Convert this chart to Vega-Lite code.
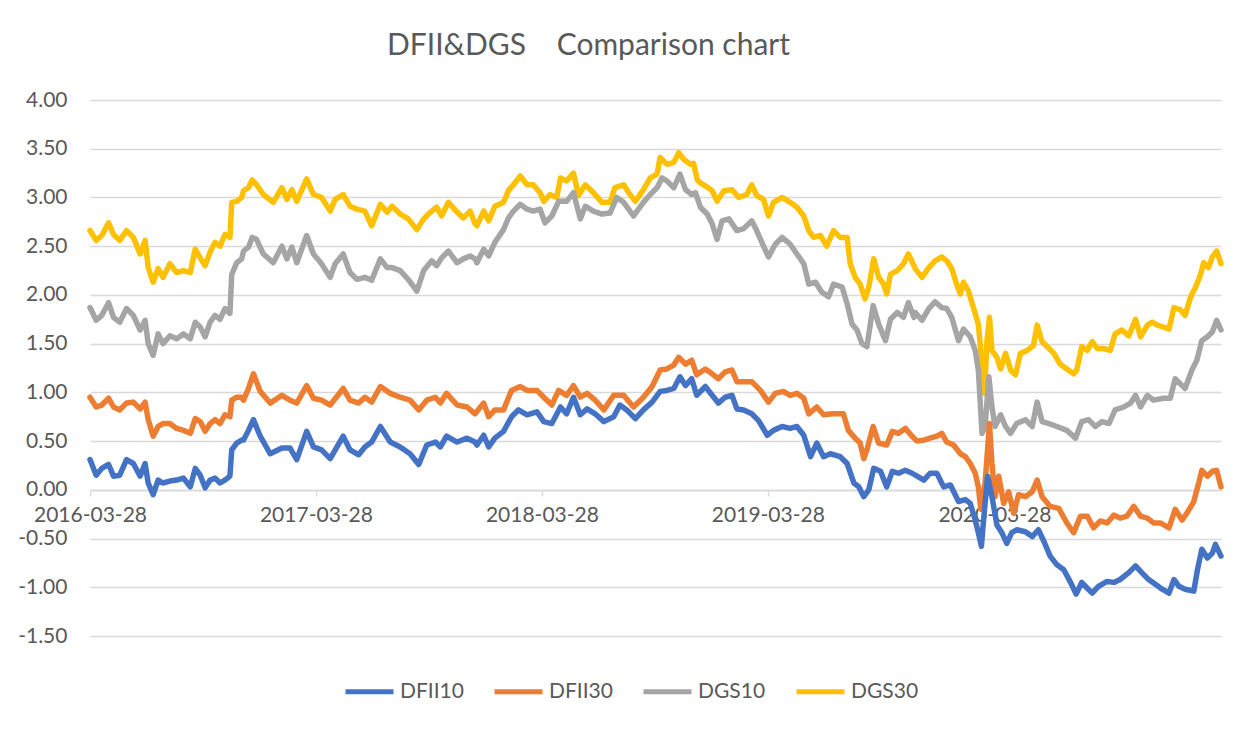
{
"$schema": "https://vega.github.io/schema/vega-lite/v6.json",
"width": 1131, "height": 536,
"autosize": {"type": "none"},
"padding": {"left": 90, "top": 100, "right": 28, "bottom": 93},
"background": "white",
"config": {"view": {"stroke": null}, "font": "Lato"},
"title": {"text": "DFII&DGS\u00a0\u00a0\u00a0 Comparison chart", "font": "Lato", "fontSize": 30, "fontWeight": "normal", "color": "#595959", "anchor": "middle", "frame": "group", "dx": -67, "offset": 4, "baseline": "alphabetic"},
"data": {"values": [
{"s":"DGS30","d":"2016-03-28","v":2.66},{"s":"DGS30","d":"2016-04-07","v":2.56},{"s":"DGS30","d":"2016-04-16","v":2.61},{"s":"DGS30","d":"2016-04-27","v":2.74},{"s":"DGS30","d":"2016-05-05","v":2.62},{"s":"DGS30","d":"2016-05-15","v":2.56},{"s":"DGS30","d":"2016-05-26","v":2.66},{"s":"DGS30","d":"2016-06-06","v":2.59},{"s":"DGS30","d":"2016-06-17","v":2.42},{"s":"DGS30","d":"2016-06-25","v":2.56},{"s":"DGS30","d":"2016-06-30","v":2.28},{"s":"DGS30","d":"2016-07-08","v":2.13},{"s":"DGS30","d":"2016-07-16","v":2.27},{"s":"DGS30","d":"2016-07-24","v":2.18},{"s":"DGS30","d":"2016-08-04","v":2.32},{"s":"DGS30","d":"2016-08-15","v":2.23},{"s":"DGS30","d":"2016-08-26","v":2.25},{"s":"DGS30","d":"2016-09-06","v":2.23},{"s":"DGS30","d":"2016-09-14","v":2.47},{"s":"DGS30","d":"2016-09-22","v":2.38},{"s":"DGS30","d":"2016-09-30","v":2.30},{"s":"DGS30","d":"2016-10-08","v":2.44},{"s":"DGS30","d":"2016-10-16","v":2.54},{"s":"DGS30","d":"2016-10-24","v":2.50},{"s":"DGS30","d":"2016-11-01","v":2.62},{"s":"DGS30","d":"2016-11-09","v":2.59},{"s":"DGS30","d":"2016-11-12","v":2.95},{"s":"DGS30","d":"2016-11-20","v":2.96},{"s":"DGS30","d":"2016-11-28","v":3.00},{"s":"DGS30","d":"2016-12-01","v":3.07},{"s":"DGS30","d":"2016-12-09","v":3.10},{"s":"DGS30","d":"2016-12-15","v":3.18},{"s":"DGS30","d":"2016-12-22","v":3.13},{"s":"DGS30","d":"2017-01-02","v":3.03},{"s":"DGS30","d":"2017-01-18","v":2.95},{"s":"DGS30","d":"2017-02-01","v":3.10},{"s":"DGS30","d":"2017-02-09","v":2.98},{"s":"DGS30","d":"2017-02-17","v":3.08},{"s":"DGS30","d":"2017-02-25","v":2.96},{"s":"DGS30","d":"2017-03-13","v":3.19},{"s":"DGS30","d":"2017-03-24","v":3.03},{"s":"DGS30","d":"2017-04-06","v":3.00},{"s":"DGS30","d":"2017-04-20","v":2.86},{"s":"DGS30","d":"2017-04-28","v":2.98},{"s":"DGS30","d":"2017-05-11","v":3.03},{"s":"DGS30","d":"2017-05-22","v":2.91},{"s":"DGS30","d":"2017-06-02","v":2.88},{"s":"DGS30","d":"2017-06-15","v":2.86},{"s":"DGS30","d":"2017-06-26","v":2.71},{"s":"DGS30","d":"2017-07-10","v":2.93},{"s":"DGS30","d":"2017-07-21","v":2.85},{"s":"DGS30","d":"2017-07-29","v":2.91},{"s":"DGS30","d":"2017-08-11","v":2.83},{"s":"DGS30","d":"2017-08-24","v":2.78},{"s":"DGS30","d":"2017-09-07","v":2.67},{"s":"DGS30","d":"2017-09-18","v":2.78},{"s":"DGS30","d":"2017-10-01","v":2.86},{"s":"DGS30","d":"2017-10-09","v":2.90},{"s":"DGS30","d":"2017-10-17","v":2.81},{"s":"DGS30","d":"2017-10-28","v":2.95},{"s":"DGS30","d":"2017-11-11","v":2.85},{"s":"DGS30","d":"2017-11-21","v":2.79},{"s":"DGS30","d":"2017-12-02","v":2.86},{"s":"DGS30","d":"2017-12-10","v":2.73},{"s":"DGS30","d":"2017-12-13","v":2.71},{"s":"DGS30","d":"2017-12-24","v":2.86},{"s":"DGS30","d":"2018-01-01","v":2.76},{"s":"DGS30","d":"2018-01-11","v":2.91},{"s":"DGS30","d":"2018-01-25","v":2.95},{"s":"DGS30","d":"2018-02-02","v":3.07},{"s":"DGS30","d":"2018-02-10","v":3.13},{"s":"DGS30","d":"2018-02-21","v":3.22},{"s":"DGS30","d":"2018-03-04","v":3.13},{"s":"DGS30","d":"2018-03-14","v":3.13},{"s":"DGS30","d":"2018-03-25","v":3.05},{"s":"DGS30","d":"2018-03-31","v":2.96},{"s":"DGS30","d":"2018-04-10","v":3.03},{"s":"DGS30","d":"2018-04-21","v":3.00},{"s":"DGS30","d":"2018-04-27","v":3.20},{"s":"DGS30","d":"2018-05-07","v":3.17},{"s":"DGS30","d":"2018-05-18","v":3.25},{"s":"DGS30","d":"2018-05-26","v":3.02},{"s":"DGS30","d":"2018-06-06","v":3.13},{"s":"DGS30","d":"2018-06-19","v":3.05},{"s":"DGS30","d":"2018-07-03","v":2.95},{"s":"DGS30","d":"2018-07-16","v":2.95},{"s":"DGS30","d":"2018-07-24","v":3.10},{"s":"DGS30","d":"2018-08-07","v":3.13},{"s":"DGS30","d":"2018-08-15","v":3.05},{"s":"DGS30","d":"2018-08-26","v":2.96},{"s":"DGS30","d":"2018-09-08","v":3.08},{"s":"DGS30","d":"2018-09-19","v":3.20},{"s":"DGS30","d":"2018-09-30","v":3.24},{"s":"DGS30","d":"2018-10-05","v":3.41},{"s":"DGS30","d":"2018-10-16","v":3.34},{"s":"DGS30","d":"2018-10-27","v":3.36},{"s":"DGS30","d":"2018-11-04","v":3.46},{"s":"DGS30","d":"2018-11-12","v":3.39},{"s":"DGS30","d":"2018-11-23","v":3.34},{"s":"DGS30","d":"2018-11-28","v":3.35},{"s":"DGS30","d":"2018-12-04","v":3.18},{"s":"DGS30","d":"2018-12-09","v":3.15},{"s":"DGS30","d":"2018-12-17","v":3.12},{"s":"DGS30","d":"2018-12-28","v":3.07},{"s":"DGS30","d":"2019-01-05","v":2.96},{"s":"DGS30","d":"2019-01-16","v":3.07},{"s":"DGS30","d":"2019-01-29","v":3.08},{"s":"DGS30","d":"2019-02-09","v":3.00},{"s":"DGS30","d":"2019-02-22","v":3.03},{"s":"DGS30","d":"2019-03-02","v":3.13},{"s":"DGS30","d":"2019-03-10","v":3.02},{"s":"DGS30","d":"2019-03-21","v":2.98},{"s":"DGS30","d":"2019-03-29","v":2.81},{"s":"DGS30","d":"2019-04-06","v":2.95},{"s":"DGS30","d":"2019-04-20","v":3.00},{"s":"DGS30","d":"2019-05-03","v":2.95},{"s":"DGS30","d":"2019-05-14","v":2.90},{"s":"DGS30","d":"2019-05-25","v":2.81},{"s":"DGS30","d":"2019-06-02","v":2.66},{"s":"DGS30","d":"2019-06-10","v":2.59},{"s":"DGS30","d":"2019-06-21","v":2.61},{"s":"DGS30","d":"2019-07-01","v":2.50},{"s":"DGS30","d":"2019-07-12","v":2.66},{"s":"DGS30","d":"2019-07-23","v":2.59},{"s":"DGS30","d":"2019-08-03","v":2.59},{"s":"DGS30","d":"2019-08-08","v":2.32},{"s":"DGS30","d":"2019-08-16","v":2.18},{"s":"DGS30","d":"2019-08-24","v":2.11},{"s":"DGS30","d":"2019-09-01","v":1.96},{"s":"DGS30","d":"2019-09-07","v":2.08},{"s":"DGS30","d":"2019-09-15","v":2.37},{"s":"DGS30","d":"2019-09-23","v":2.18},{"s":"DGS30","d":"2019-10-01","v":2.11},{"s":"DGS30","d":"2019-10-06","v":2.01},{"s":"DGS30","d":"2019-10-12","v":2.21},{"s":"DGS30","d":"2019-10-23","v":2.25},{"s":"DGS30","d":"2019-11-02","v":2.32},{"s":"DGS30","d":"2019-11-10","v":2.42},{"s":"DGS30","d":"2019-11-19","v":2.30},{"s":"DGS30","d":"2019-11-21","v":2.27},{"s":"DGS30","d":"2019-12-02","v":2.18},{"s":"DGS30","d":"2019-12-13","v":2.28},{"s":"DGS30","d":"2019-12-23","v":2.35},{"s":"DGS30","d":"2020-01-03","v":2.39},{"s":"DGS30","d":"2020-01-11","v":2.35},{"s":"DGS30","d":"2020-01-19","v":2.27},{"s":"DGS30","d":"2020-01-27","v":2.11},{"s":"DGS30","d":"2020-02-02","v":2.01},{"s":"DGS30","d":"2020-02-07","v":2.13},{"s":"DGS30","d":"2020-02-15","v":2.04},{"s":"DGS30","d":"2020-02-23","v":1.87},{"s":"DGS30","d":"2020-03-02","v":1.70},{"s":"DGS30","d":"2020-03-08","v":1.29},{"s":"DGS30","d":"2020-03-12","v":0.99},{"s":"DGS30","d":"2020-03-16","v":1.53},{"s":"DGS30","d":"2020-03-20","v":1.77},{"s":"DGS30","d":"2020-03-24","v":1.43},{"s":"DGS30","d":"2020-04-01","v":1.36},{"s":"DGS30","d":"2020-04-07","v":1.24},{"s":"DGS30","d":"2020-04-15","v":1.40},{"s":"DGS30","d":"2020-04-23","v":1.23},{"s":"DGS30","d":"2020-05-01","v":1.18},{"s":"DGS30","d":"2020-05-09","v":1.40},{"s":"DGS30","d":"2020-05-20","v":1.43},{"s":"DGS30","d":"2020-05-30","v":1.48},{"s":"DGS30","d":"2020-06-05","v":1.69},{"s":"DGS30","d":"2020-06-13","v":1.52},{"s":"DGS30","d":"2020-06-21","v":1.47},{"s":"DGS30","d":"2020-07-02","v":1.40},{"s":"DGS30","d":"2020-07-12","v":1.29},{"s":"DGS30","d":"2020-07-23","v":1.24},{"s":"DGS30","d":"2020-08-03","v":1.19},{"s":"DGS30","d":"2020-08-08","v":1.23},{"s":"DGS30","d":"2020-08-16","v":1.47},{"s":"DGS30","d":"2020-08-25","v":1.43},{"s":"DGS30","d":"2020-09-02","v":1.52},{"s":"DGS30","d":"2020-09-10","v":1.45},{"s":"DGS30","d":"2020-09-20","v":1.45},{"s":"DGS30","d":"2020-10-01","v":1.43},{"s":"DGS30","d":"2020-10-09","v":1.60},{"s":"DGS30","d":"2020-10-20","v":1.64},{"s":"DGS30","d":"2020-10-31","v":1.58},{"s":"DGS30","d":"2020-11-11","v":1.75},{"s":"DGS30","d":"2020-11-19","v":1.57},{"s":"DGS30","d":"2020-11-30","v":1.69},{"s":"DGS30","d":"2020-12-08","v":1.72},{"s":"DGS30","d":"2020-12-16","v":1.69},{"s":"DGS30","d":"2020-12-26","v":1.67},{"s":"DGS30","d":"2021-01-04","v":1.65},{"s":"DGS30","d":"2021-01-12","v":1.87},{"s":"DGS30","d":"2021-01-22","v":1.85},{"s":"DGS30","d":"2021-01-30","v":1.79},{"s":"DGS30","d":"2021-02-08","v":1.98},{"s":"DGS30","d":"2021-02-16","v":2.08},{"s":"DGS30","d":"2021-02-24","v":2.21},{"s":"DGS30","d":"2021-03-01","v":2.33},{"s":"DGS30","d":"2021-03-09","v":2.28},{"s":"DGS30","d":"2021-03-15","v":2.39},{"s":"DGS30","d":"2021-03-22","v":2.45},{"s":"DGS30","d":"2021-03-29","v":2.32},

{"s":"DGS10","d":"2016-03-28","v":1.87},{"s":"DGS10","d":"2016-04-07","v":1.74},{"s":"DGS10","d":"2016-04-16","v":1.79},{"s":"DGS10","d":"2016-04-27","v":1.92},{"s":"DGS10","d":"2016-05-05","v":1.77},{"s":"DGS10","d":"2016-05-15","v":1.72},{"s":"DGS10","d":"2016-05-26","v":1.86},{"s":"DGS10","d":"2016-06-06","v":1.79},{"s":"DGS10","d":"2016-06-17","v":1.64},{"s":"DGS10","d":"2016-06-25","v":1.74},{"s":"DGS10","d":"2016-06-30","v":1.50},{"s":"DGS10","d":"2016-07-08","v":1.38},{"s":"DGS10","d":"2016-07-16","v":1.60},{"s":"DGS10","d":"2016-07-24","v":1.50},{"s":"DGS10","d":"2016-08-04","v":1.58},{"s":"DGS10","d":"2016-08-15","v":1.55},{"s":"DGS10","d":"2016-08-26","v":1.60},{"s":"DGS10","d":"2016-09-06","v":1.55},{"s":"DGS10","d":"2016-09-14","v":1.72},{"s":"DGS10","d":"2016-09-22","v":1.67},{"s":"DGS10","d":"2016-09-30","v":1.57},{"s":"DGS10","d":"2016-10-08","v":1.72},{"s":"DGS10","d":"2016-10-16","v":1.79},{"s":"DGS10","d":"2016-10-24","v":1.75},{"s":"DGS10","d":"2016-11-01","v":1.86},{"s":"DGS10","d":"2016-11-09","v":1.81},{"s":"DGS10","d":"2016-11-12","v":2.21},{"s":"DGS10","d":"2016-11-20","v":2.33},{"s":"DGS10","d":"2016-11-28","v":2.37},{"s":"DGS10","d":"2016-12-01","v":2.45},{"s":"DGS10","d":"2016-12-09","v":2.49},{"s":"DGS10","d":"2016-12-15","v":2.59},{"s":"DGS10","d":"2016-12-22","v":2.57},{"s":"DGS10","d":"2017-01-02","v":2.42},{"s":"DGS10","d":"2017-01-18","v":2.33},{"s":"DGS10","d":"2017-02-01","v":2.50},{"s":"DGS10","d":"2017-02-09","v":2.37},{"s":"DGS10","d":"2017-02-17","v":2.49},{"s":"DGS10","d":"2017-02-25","v":2.33},{"s":"DGS10","d":"2017-03-13","v":2.61},{"s":"DGS10","d":"2017-03-24","v":2.42},{"s":"DGS10","d":"2017-04-06","v":2.32},{"s":"DGS10","d":"2017-04-20","v":2.18},{"s":"DGS10","d":"2017-04-28","v":2.32},{"s":"DGS10","d":"2017-05-11","v":2.42},{"s":"DGS10","d":"2017-05-22","v":2.23},{"s":"DGS10","d":"2017-06-02","v":2.16},{"s":"DGS10","d":"2017-06-15","v":2.18},{"s":"DGS10","d":"2017-06-26","v":2.15},{"s":"DGS10","d":"2017-07-10","v":2.37},{"s":"DGS10","d":"2017-07-21","v":2.28},{"s":"DGS10","d":"2017-07-29","v":2.28},{"s":"DGS10","d":"2017-08-11","v":2.25},{"s":"DGS10","d":"2017-08-24","v":2.16},{"s":"DGS10","d":"2017-09-07","v":2.04},{"s":"DGS10","d":"2017-09-18","v":2.25},{"s":"DGS10","d":"2017-10-01","v":2.35},{"s":"DGS10","d":"2017-10-09","v":2.30},{"s":"DGS10","d":"2017-10-17","v":2.38},{"s":"DGS10","d":"2017-10-28","v":2.45},{"s":"DGS10","d":"2017-11-11","v":2.33},{"s":"DGS10","d":"2017-11-21","v":2.37},{"s":"DGS10","d":"2017-12-02","v":2.40},{"s":"DGS10","d":"2017-12-10","v":2.37},{"s":"DGS10","d":"2017-12-13","v":2.33},{"s":"DGS10","d":"2017-12-24","v":2.47},{"s":"DGS10","d":"2018-01-01","v":2.40},{"s":"DGS10","d":"2018-01-11","v":2.54},{"s":"DGS10","d":"2018-01-25","v":2.67},{"s":"DGS10","d":"2018-02-02","v":2.79},{"s":"DGS10","d":"2018-02-10","v":2.86},{"s":"DGS10","d":"2018-02-21","v":2.93},{"s":"DGS10","d":"2018-03-04","v":2.88},{"s":"DGS10","d":"2018-03-14","v":2.86},{"s":"DGS10","d":"2018-03-25","v":2.88},{"s":"DGS10","d":"2018-04-02","v":2.74},{"s":"DGS10","d":"2018-04-13","v":2.81},{"s":"DGS10","d":"2018-04-24","v":2.96},{"s":"DGS10","d":"2018-05-07","v":2.96},{"s":"DGS10","d":"2018-05-18","v":3.05},{"s":"DGS10","d":"2018-05-29","v":2.78},{"s":"DGS10","d":"2018-06-06","v":2.91},{"s":"DGS10","d":"2018-06-19","v":2.86},{"s":"DGS10","d":"2018-07-03","v":2.83},{"s":"DGS10","d":"2018-07-16","v":2.84},{"s":"DGS10","d":"2018-07-27","v":3.00},{"s":"DGS10","d":"2018-08-07","v":2.95},{"s":"DGS10","d":"2018-08-23","v":2.81},{"s":"DGS10","d":"2018-09-08","v":2.95},{"s":"DGS10","d":"2018-09-19","v":3.03},{"s":"DGS10","d":"2018-09-30","v":3.10},{"s":"DGS10","d":"2018-10-08","v":3.20},{"s":"DGS10","d":"2018-10-16","v":3.17},{"s":"DGS10","d":"2018-10-27","v":3.10},{"s":"DGS10","d":"2018-11-06","v":3.24},{"s":"DGS10","d":"2018-11-15","v":3.08},{"s":"DGS10","d":"2018-11-25","v":3.03},{"s":"DGS10","d":"2018-12-01","v":3.05},{"s":"DGS10","d":"2018-12-09","v":2.90},{"s":"DGS10","d":"2018-12-20","v":2.83},{"s":"DGS10","d":"2018-12-28","v":2.73},{"s":"DGS10","d":"2019-01-05","v":2.57},{"s":"DGS10","d":"2019-01-13","v":2.76},{"s":"DGS10","d":"2019-01-24","v":2.78},{"s":"DGS10","d":"2019-02-06","v":2.66},{"s":"DGS10","d":"2019-02-17","v":2.68},{"s":"DGS10","d":"2019-03-02","v":2.76},{"s":"DGS10","d":"2019-03-10","v":2.66},{"s":"DGS10","d":"2019-03-21","v":2.50},{"s":"DGS10","d":"2019-03-29","v":2.39},{"s":"DGS10","d":"2019-04-09","v":2.52},{"s":"DGS10","d":"2019-04-20","v":2.59},{"s":"DGS10","d":"2019-05-03","v":2.52},{"s":"DGS10","d":"2019-05-14","v":2.42},{"s":"DGS10","d":"2019-05-25","v":2.32},{"s":"DGS10","d":"2019-06-02","v":2.11},{"s":"DGS10","d":"2019-06-13","v":2.13},{"s":"DGS10","d":"2019-06-23","v":2.03},{"s":"DGS10","d":"2019-07-04","v":1.98},{"s":"DGS10","d":"2019-07-12","v":2.11},{"s":"DGS10","d":"2019-07-26","v":2.08},{"s":"DGS10","d":"2019-08-03","v":1.91},{"s":"DGS10","d":"2019-08-11","v":1.70},{"s":"DGS10","d":"2019-08-19","v":1.64},{"s":"DGS10","d":"2019-08-27","v":1.50},{"s":"DGS10","d":"2019-09-04","v":1.47},{"s":"DGS10","d":"2019-09-14","v":1.89},{"s":"DGS10","d":"2019-09-23","v":1.70},{"s":"DGS10","d":"2019-10-04","v":1.53},{"s":"DGS10","d":"2019-10-12","v":1.75},{"s":"DGS10","d":"2019-10-23","v":1.82},{"s":"DGS10","d":"2019-11-02","v":1.77},{"s":"DGS10","d":"2019-11-10","v":1.92},{"s":"DGS10","d":"2019-11-19","v":1.77},{"s":"DGS10","d":"2019-11-21","v":1.82},{"s":"DGS10","d":"2019-12-02","v":1.74},{"s":"DGS10","d":"2019-12-13","v":1.86},{"s":"DGS10","d":"2019-12-23","v":1.93},{"s":"DGS10","d":"2020-01-03","v":1.87},{"s":"DGS10","d":"2020-01-11","v":1.86},{"s":"DGS10","d":"2020-01-19","v":1.77},{"s":"DGS10","d":"2020-01-30","v":1.53},{"s":"DGS10","d":"2020-02-07","v":1.65},{"s":"DGS10","d":"2020-02-18","v":1.57},{"s":"DGS10","d":"2020-02-26","v":1.43},{"s":"DGS10","d":"2020-03-02","v":1.23},{"s":"DGS10","d":"2020-03-08","v":0.58},{"s":"DGS10","d":"2020-03-13","v":0.65},{"s":"DGS10","d":"2020-03-19","v":1.16},{"s":"DGS10","d":"2020-03-24","v":0.85},{"s":"DGS10","d":"2020-03-29","v":0.65},{"s":"DGS10","d":"2020-04-07","v":0.77},{"s":"DGS10","d":"2020-04-15","v":0.65},{"s":"DGS10","d":"2020-04-23","v":0.58},{"s":"DGS10","d":"2020-05-03","v":0.68},{"s":"DGS10","d":"2020-05-17","v":0.72},{"s":"DGS10","d":"2020-05-28","v":0.65},{"s":"DGS10","d":"2020-06-05","v":0.90},{"s":"DGS10","d":"2020-06-13","v":0.70},{"s":"DGS10","d":"2020-06-24","v":0.68},{"s":"DGS10","d":"2020-07-07","v":0.65},{"s":"DGS10","d":"2020-07-23","v":0.61},{"s":"DGS10","d":"2020-08-06","v":0.53},{"s":"DGS10","d":"2020-08-16","v":0.70},{"s":"DGS10","d":"2020-08-27","v":0.72},{"s":"DGS10","d":"2020-09-07","v":0.65},{"s":"DGS10","d":"2020-09-18","v":0.70},{"s":"DGS10","d":"2020-09-29","v":0.68},{"s":"DGS10","d":"2020-10-09","v":0.82},{"s":"DGS10","d":"2020-10-23","v":0.85},{"s":"DGS10","d":"2020-11-03","v":0.89},{"s":"DGS10","d":"2020-11-11","v":0.97},{"s":"DGS10","d":"2020-11-19","v":0.85},{"s":"DGS10","d":"2020-11-30","v":0.97},{"s":"DGS10","d":"2020-12-10","v":0.92},{"s":"DGS10","d":"2020-12-26","v":0.94},{"s":"DGS10","d":"2021-01-06","v":0.94},{"s":"DGS10","d":"2021-01-14","v":1.14},{"s":"DGS10","d":"2021-01-25","v":1.07},{"s":"DGS10","d":"2021-01-30","v":1.04},{"s":"DGS10","d":"2021-02-10","v":1.23},{"s":"DGS10","d":"2021-02-18","v":1.33},{"s":"DGS10","d":"2021-02-26","v":1.53},{"s":"DGS10","d":"2021-03-07","v":1.57},{"s":"DGS10","d":"2021-03-15","v":1.62},{"s":"DGS10","d":"2021-03-22","v":1.74},{"s":"DGS10","d":"2021-03-29","v":1.64},

{"s":"DFII30","d":"2016-03-28","v":0.95},{"s":"DFII30","d":"2016-04-07","v":0.85},{"s":"DFII30","d":"2016-04-16","v":0.87},{"s":"DFII30","d":"2016-04-27","v":0.94},{"s":"DFII30","d":"2016-05-05","v":0.85},{"s":"DFII30","d":"2016-05-15","v":0.82},{"s":"DFII30","d":"2016-05-26","v":0.89},{"s":"DFII30","d":"2016-06-06","v":0.90},{"s":"DFII30","d":"2016-06-17","v":0.83},{"s":"DFII30","d":"2016-06-25","v":0.90},{"s":"DFII30","d":"2016-06-30","v":0.72},{"s":"DFII30","d":"2016-07-08","v":0.55},{"s":"DFII30","d":"2016-07-16","v":0.65},{"s":"DFII30","d":"2016-07-24","v":0.68},{"s":"DFII30","d":"2016-08-04","v":0.68},{"s":"DFII30","d":"2016-08-15","v":0.63},{"s":"DFII30","d":"2016-08-26","v":0.61},{"s":"DFII30","d":"2016-09-06","v":0.58},{"s":"DFII30","d":"2016-09-14","v":0.73},{"s":"DFII30","d":"2016-09-22","v":0.70},{"s":"DFII30","d":"2016-09-30","v":0.60},{"s":"DFII30","d":"2016-10-08","v":0.68},{"s":"DFII30","d":"2016-10-16","v":0.72},{"s":"DFII30","d":"2016-10-24","v":0.68},{"s":"DFII30","d":"2016-11-01","v":0.77},{"s":"DFII30","d":"2016-11-09","v":0.75},{"s":"DFII30","d":"2016-11-12","v":0.92},{"s":"DFII30","d":"2016-11-20","v":0.95},{"s":"DFII30","d":"2016-11-28","v":0.95},{"s":"DFII30","d":"2016-12-01","v":0.92},{"s":"DFII30","d":"2016-12-09","v":1.04},{"s":"DFII30","d":"2016-12-17","v":1.19},{"s":"DFII30","d":"2016-12-28","v":1.01},{"s":"DFII30","d":"2017-01-13","v":0.89},{"s":"DFII30","d":"2017-02-01","v":0.97},{"s":"DFII30","d":"2017-02-14","v":0.92},{"s":"DFII30","d":"2017-02-25","v":0.89},{"s":"DFII30","d":"2017-03-13","v":1.07},{"s":"DFII30","d":"2017-03-24","v":0.94},{"s":"DFII30","d":"2017-04-06","v":0.92},{"s":"DFII30","d":"2017-04-20","v":0.87},{"s":"DFII30","d":"2017-05-11","v":1.04},{"s":"DFII30","d":"2017-05-22","v":0.92},{"s":"DFII30","d":"2017-06-05","v":0.89},{"s":"DFII30","d":"2017-06-15","v":0.95},{"s":"DFII30","d":"2017-06-26","v":0.90},{"s":"DFII30","d":"2017-07-10","v":1.06},{"s":"DFII30","d":"2017-07-26","v":0.99},{"s":"DFII30","d":"2017-08-11","v":0.95},{"s":"DFII30","d":"2017-08-27","v":0.92},{"s":"DFII30","d":"2017-09-10","v":0.82},{"s":"DFII30","d":"2017-09-23","v":0.92},{"s":"DFII30","d":"2017-10-07","v":0.95},{"s":"DFII30","d":"2017-10-15","v":0.89},{"s":"DFII30","d":"2017-10-25","v":0.99},{"s":"DFII30","d":"2017-11-11","v":0.87},{"s":"DFII30","d":"2017-11-27","v":0.85},{"s":"DFII30","d":"2017-12-10","v":0.78},{"s":"DFII30","d":"2017-12-24","v":0.89},{"s":"DFII30","d":"2018-01-01","v":0.75},{"s":"DFII30","d":"2018-01-11","v":0.82},{"s":"DFII30","d":"2018-01-25","v":0.82},{"s":"DFII30","d":"2018-02-07","v":1.02},{"s":"DFII30","d":"2018-02-21","v":1.06},{"s":"DFII30","d":"2018-03-04","v":1.02},{"s":"DFII30","d":"2018-03-20","v":1.02},{"s":"DFII30","d":"2018-03-31","v":0.95},{"s":"DFII30","d":"2018-04-13","v":0.87},{"s":"DFII30","d":"2018-04-24","v":1.02},{"s":"DFII30","d":"2018-05-07","v":0.97},{"s":"DFII30","d":"2018-05-18","v":1.07},{"s":"DFII30","d":"2018-05-29","v":0.95},{"s":"DFII30","d":"2018-06-09","v":0.99},{"s":"DFII30","d":"2018-06-22","v":0.92},{"s":"DFII30","d":"2018-07-06","v":0.82},{"s":"DFII30","d":"2018-07-22","v":0.97},{"s":"DFII30","d":"2018-08-07","v":0.97},{"s":"DFII30","d":"2018-08-23","v":0.85},{"s":"DFII30","d":"2018-09-08","v":0.95},{"s":"DFII30","d":"2018-09-22","v":1.06},{"s":"DFII30","d":"2018-10-05","v":1.23},{"s":"DFII30","d":"2018-10-16","v":1.24},{"s":"DFII30","d":"2018-10-27","v":1.28},{"s":"DFII30","d":"2018-11-04","v":1.36},{"s":"DFII30","d":"2018-11-15","v":1.29},{"s":"DFII30","d":"2018-11-25","v":1.33},{"s":"DFII30","d":"2018-12-03","v":1.18},{"s":"DFII30","d":"2018-12-17","v":1.24},{"s":"DFII30","d":"2018-12-28","v":1.19},{"s":"DFII30","d":"2019-01-07","v":1.14},{"s":"DFII30","d":"2019-01-18","v":1.21},{"s":"DFII30","d":"2019-01-29","v":1.23},{"s":"DFII30","d":"2019-02-06","v":1.11},{"s":"DFII30","d":"2019-02-17","v":1.11},{"s":"DFII30","d":"2019-03-02","v":1.11},{"s":"DFII30","d":"2019-03-16","v":1.02},{"s":"DFII30","d":"2019-03-29","v":0.90},{"s":"DFII30","d":"2019-04-09","v":0.99},{"s":"DFII30","d":"2019-04-22","v":1.01},{"s":"DFII30","d":"2019-05-03","v":0.97},{"s":"DFII30","d":"2019-05-14","v":0.99},{"s":"DFII30","d":"2019-05-25","v":0.94},{"s":"DFII30","d":"2019-06-02","v":0.78},{"s":"DFII30","d":"2019-06-15","v":0.85},{"s":"DFII30","d":"2019-06-26","v":0.77},{"s":"DFII30","d":"2019-07-10","v":0.78},{"s":"DFII30","d":"2019-07-28","v":0.78},{"s":"DFII30","d":"2019-08-05","v":0.61},{"s":"DFII30","d":"2019-08-16","v":0.53},{"s":"DFII30","d":"2019-08-24","v":0.48},{"s":"DFII30","d":"2019-08-30","v":0.32},{"s":"DFII30","d":"2019-09-04","v":0.41},{"s":"DFII30","d":"2019-09-14","v":0.65},{"s":"DFII30","d":"2019-09-23","v":0.48},{"s":"DFII30","d":"2019-10-06","v":0.46},{"s":"DFII30","d":"2019-10-15","v":0.60},{"s":"DFII30","d":"2019-10-25","v":0.58},{"s":"DFII30","d":"2019-11-05","v":0.63},{"s":"DFII30","d":"2019-11-16","v":0.55},{"s":"DFII30","d":"2019-11-24","v":0.50},{"s":"DFII30","d":"2019-12-05","v":0.51},{"s":"DFII30","d":"2019-12-15","v":0.53},{"s":"DFII30","d":"2019-12-26","v":0.55},{"s":"DFII30","d":"2020-01-03","v":0.58},{"s":"DFII30","d":"2020-01-11","v":0.49},{"s":"DFII30","d":"2020-01-22","v":0.46},{"s":"DFII30","d":"2020-02-02","v":0.37},{"s":"DFII30","d":"2020-02-10","v":0.34},{"s":"DFII30","d":"2020-02-18","v":0.27},{"s":"DFII30","d":"2020-02-26","v":0.17},{"s":"DFII30","d":"2020-03-02","v":0.03},{"s":"DFII30","d":"2020-03-06","v":-0.20},{"s":"DFII30","d":"2020-03-13","v":0.07},{"s":"DFII30","d":"2020-03-20","v":0.68},{"s":"DFII30","d":"2020-03-24","v":0.27},{"s":"DFII30","d":"2020-03-29","v":-0.07},{"s":"DFII30","d":"2020-04-04","v":0.14},{"s":"DFII30","d":"2020-04-12","v":-0.14},{"s":"DFII30","d":"2020-04-20","v":-0.02},{"s":"DFII30","d":"2020-04-28","v":-0.24},{"s":"DFII30","d":"2020-05-06","v":-0.05},{"s":"DFII30","d":"2020-05-17","v":-0.07},{"s":"DFII30","d":"2020-05-28","v":-0.02},{"s":"DFII30","d":"2020-06-05","v":0.10},{"s":"DFII30","d":"2020-06-13","v":-0.07},{"s":"DFII30","d":"2020-06-26","v":-0.17},{"s":"DFII30","d":"2020-07-10","v":-0.19},{"s":"DFII30","d":"2020-07-23","v":-0.34},{"s":"DFII30","d":"2020-08-03","v":-0.44},{"s":"DFII30","d":"2020-08-14","v":-0.27},{"s":"DFII30","d":"2020-08-25","v":-0.27},{"s":"DFII30","d":"2020-09-04","v":-0.39},{"s":"DFII30","d":"2020-09-15","v":-0.32},{"s":"DFII30","d":"2020-09-26","v":-0.34},{"s":"DFII30","d":"2020-10-07","v":-0.26},{"s":"DFII30","d":"2020-10-17","v":-0.29},{"s":"DFII30","d":"2020-10-28","v":-0.27},{"s":"DFII30","d":"2020-11-08","v":-0.17},{"s":"DFII30","d":"2020-11-19","v":-0.27},{"s":"DFII30","d":"2020-11-30","v":-0.29},{"s":"DFII30","d":"2020-12-10","v":-0.34},{"s":"DFII30","d":"2020-12-21","v":-0.34},{"s":"DFII30","d":"2021-01-04","v":-0.39},{"s":"DFII30","d":"2021-01-14","v":-0.20},{"s":"DFII30","d":"2021-01-25","v":-0.31},{"s":"DFII30","d":"2021-02-02","v":-0.24},{"s":"DFII30","d":"2021-02-13","v":-0.12},{"s":"DFII30","d":"2021-02-21","v":0.07},{"s":"DFII30","d":"2021-02-26","v":0.20},{"s":"DFII30","d":"2021-03-07","v":0.14},{"s":"DFII30","d":"2021-03-15","v":0.19},{"s":"DFII30","d":"2021-03-22","v":0.20},{"s":"DFII30","d":"2021-03-29","v":0.03},

{"s":"DFII10","d":"2016-03-28","v":0.31},{"s":"DFII10","d":"2016-04-07","v":0.15},{"s":"DFII10","d":"2016-04-16","v":0.22},{"s":"DFII10","d":"2016-04-27","v":0.26},{"s":"DFII10","d":"2016-05-05","v":0.14},{"s":"DFII10","d":"2016-05-15","v":0.15},{"s":"DFII10","d":"2016-05-26","v":0.31},{"s":"DFII10","d":"2016-06-06","v":0.27},{"s":"DFII10","d":"2016-06-17","v":0.14},{"s":"DFII10","d":"2016-06-25","v":0.27},{"s":"DFII10","d":"2016-06-30","v":0.07},{"s":"DFII10","d":"2016-07-08","v":-0.05},{"s":"DFII10","d":"2016-07-16","v":0.10},{"s":"DFII10","d":"2016-07-24","v":0.07},{"s":"DFII10","d":"2016-08-04","v":0.09},{"s":"DFII10","d":"2016-08-15","v":0.10},{"s":"DFII10","d":"2016-08-26","v":0.12},{"s":"DFII10","d":"2016-09-06","v":0.03},{"s":"DFII10","d":"2016-09-14","v":0.22},{"s":"DFII10","d":"2016-09-22","v":0.15},{"s":"DFII10","d":"2016-09-30","v":0.02},{"s":"DFII10","d":"2016-10-08","v":0.10},{"s":"DFII10","d":"2016-10-16","v":0.12},{"s":"DFII10","d":"2016-10-24","v":0.07},{"s":"DFII10","d":"2016-11-01","v":0.10},{"s":"DFII10","d":"2016-11-09","v":0.14},{"s":"DFII10","d":"2016-11-12","v":0.41},{"s":"DFII10","d":"2016-11-20","v":0.48},{"s":"DFII10","d":"2016-11-28","v":0.51},{"s":"DFII10","d":"2016-12-01","v":0.51},{"s":"DFII10","d":"2016-12-09","v":0.61},{"s":"DFII10","d":"2016-12-17","v":0.72},{"s":"DFII10","d":"2016-12-28","v":0.55},{"s":"DFII10","d":"2017-01-13","v":0.37},{"s":"DFII10","d":"2017-02-01","v":0.43},{"s":"DFII10","d":"2017-02-14","v":0.43},{"s":"DFII10","d":"2017-02-25","v":0.31},{"s":"DFII10","d":"2017-03-13","v":0.60},{"s":"DFII10","d":"2017-03-24","v":0.44},{"s":"DFII10","d":"2017-04-06","v":0.41},{"s":"DFII10","d":"2017-04-20","v":0.32},{"s":"DFII10","d":"2017-05-11","v":0.55},{"s":"DFII10","d":"2017-05-22","v":0.41},{"s":"DFII10","d":"2017-06-05","v":0.36},{"s":"DFII10","d":"2017-06-15","v":0.44},{"s":"DFII10","d":"2017-06-26","v":0.49},{"s":"DFII10","d":"2017-07-10","v":0.65},{"s":"DFII10","d":"2017-07-26","v":0.49},{"s":"DFII10","d":"2017-08-11","v":0.44},{"s":"DFII10","d":"2017-08-27","v":0.37},{"s":"DFII10","d":"2017-09-10","v":0.26},{"s":"DFII10","d":"2017-09-23","v":0.46},{"s":"DFII10","d":"2017-10-07","v":0.49},{"s":"DFII10","d":"2017-10-15","v":0.44},{"s":"DFII10","d":"2017-10-25","v":0.55},{"s":"DFII10","d":"2017-11-11","v":0.49},{"s":"DFII10","d":"2017-11-27","v":0.53},{"s":"DFII10","d":"2017-12-10","v":0.49},{"s":"DFII10","d":"2017-12-13","v":0.46},{"s":"DFII10","d":"2017-12-24","v":0.56},{"s":"DFII10","d":"2018-01-01","v":0.44},{"s":"DFII10","d":"2018-01-11","v":0.53},{"s":"DFII10","d":"2018-01-25","v":0.60},{"s":"DFII10","d":"2018-02-07","v":0.75},{"s":"DFII10","d":"2018-02-18","v":0.82},{"s":"DFII10","d":"2018-03-04","v":0.77},{"s":"DFII10","d":"2018-03-20","v":0.80},{"s":"DFII10","d":"2018-03-31","v":0.70},{"s":"DFII10","d":"2018-04-13","v":0.68},{"s":"DFII10","d":"2018-04-27","v":0.85},{"s":"DFII10","d":"2018-05-07","v":0.78},{"s":"DFII10","d":"2018-05-18","v":0.95},{"s":"DFII10","d":"2018-05-29","v":0.77},{"s":"DFII10","d":"2018-06-09","v":0.83},{"s":"DFII10","d":"2018-06-22","v":0.78},{"s":"DFII10","d":"2018-07-06","v":0.70},{"s":"DFII10","d":"2018-07-22","v":0.75},{"s":"DFII10","d":"2018-08-01","v":0.87},{"s":"DFII10","d":"2018-08-12","v":0.82},{"s":"DFII10","d":"2018-08-26","v":0.73},{"s":"DFII10","d":"2018-09-08","v":0.82},{"s":"DFII10","d":"2018-09-22","v":0.90},{"s":"DFII10","d":"2018-10-05","v":1.01},{"s":"DFII10","d":"2018-10-16","v":1.02},{"s":"DFII10","d":"2018-10-27","v":1.04},{"s":"DFII10","d":"2018-11-06","v":1.16},{"s":"DFII10","d":"2018-11-15","v":1.07},{"s":"DFII10","d":"2018-11-25","v":1.14},{"s":"DFII10","d":"2018-12-03","v":0.97},{"s":"DFII10","d":"2018-12-17","v":1.06},{"s":"DFII10","d":"2018-12-28","v":0.97},{"s":"DFII10","d":"2019-01-07","v":0.89},{"s":"DFII10","d":"2019-01-18","v":0.95},{"s":"DFII10","d":"2019-01-29","v":0.97},{"s":"DFII10","d":"2019-02-06","v":0.83},{"s":"DFII10","d":"2019-02-17","v":0.82},{"s":"DFII10","d":"2019-03-02","v":0.78},{"s":"DFII10","d":"2019-03-13","v":0.71},{"s":"DFII10","d":"2019-03-27","v":0.56},{"s":"DFII10","d":"2019-04-06","v":0.61},{"s":"DFII10","d":"2019-04-20","v":0.65},{"s":"DFII10","d":"2019-05-03","v":0.63},{"s":"DFII10","d":"2019-05-14","v":0.65},{"s":"DFII10","d":"2019-05-25","v":0.56},{"s":"DFII10","d":"2019-06-05","v":0.34},{"s":"DFII10","d":"2019-06-15","v":0.48},{"s":"DFII10","d":"2019-06-26","v":0.34},{"s":"DFII10","d":"2019-07-07","v":0.37},{"s":"DFII10","d":"2019-07-23","v":0.34},{"s":"DFII10","d":"2019-08-03","v":0.27},{"s":"DFII10","d":"2019-08-14","v":0.07},{"s":"DFII10","d":"2019-08-22","v":0.03},{"s":"DFII10","d":"2019-08-30","v":-0.07},{"s":"DFII10","d":"2019-09-07","v":0.00},{"s":"DFII10","d":"2019-09-15","v":0.22},{"s":"DFII10","d":"2019-09-26","v":0.19},{"s":"DFII10","d":"2019-10-06","v":0.03},{"s":"DFII10","d":"2019-10-15","v":0.19},{"s":"DFII10","d":"2019-10-25","v":0.17},{"s":"DFII10","d":"2019-11-05","v":0.20},{"s":"DFII10","d":"2019-11-16","v":0.17},{"s":"DFII10","d":"2019-11-24","v":0.14},{"s":"DFII10","d":"2019-12-05","v":0.10},{"s":"DFII10","d":"2019-12-15","v":0.17},{"s":"DFII10","d":"2019-12-26","v":0.17},{"s":"DFII10","d":"2020-01-06","v":0.03},{"s":"DFII10","d":"2020-01-17","v":0.05},{"s":"DFII10","d":"2020-01-30","v":-0.12},{"s":"DFII10","d":"2020-02-10","v":-0.10},{"s":"DFII10","d":"2020-02-18","v":-0.14},{"s":"DFII10","d":"2020-02-26","v":-0.31},{"s":"DFII10","d":"2020-03-02","v":-0.44},{"s":"DFII10","d":"2020-03-07","v":-0.58},{"s":"DFII10","d":"2020-03-11","v":-0.27},{"s":"DFII10","d":"2020-03-17","v":0.14},{"s":"DFII10","d":"2020-03-24","v":-0.07},{"s":"DFII10","d":"2020-04-01","v":-0.36},{"s":"DFII10","d":"2020-04-09","v":-0.44},{"s":"DFII10","d":"2020-04-17","v":-0.55},{"s":"DFII10","d":"2020-04-25","v":-0.44},{"s":"DFII10","d":"2020-05-03","v":-0.41},{"s":"DFII10","d":"2020-05-17","v":-0.43},{"s":"DFII10","d":"2020-05-28","v":-0.48},{"s":"DFII10","d":"2020-06-07","v":-0.41},{"s":"DFII10","d":"2020-06-16","v":-0.53},{"s":"DFII10","d":"2020-06-26","v":-0.68},{"s":"DFII10","d":"2020-07-07","v":-0.77},{"s":"DFII10","d":"2020-07-18","v":-0.82},{"s":"DFII10","d":"2020-07-29","v":-0.95},{"s":"DFII10","d":"2020-08-07","v":-1.07},{"s":"DFII10","d":"2020-08-16","v":-0.95},{"s":"DFII10","d":"2020-08-25","v":-1.01},{"s":"DFII10","d":"2020-09-02","v":-1.06},{"s":"DFII10","d":"2020-09-12","v":-0.99},{"s":"DFII10","d":"2020-09-26","v":-0.94},{"s":"DFII10","d":"2020-10-07","v":-0.95},{"s":"DFII10","d":"2020-10-17","v":-0.92},{"s":"DFII10","d":"2020-10-31","v":-0.85},{"s":"DFII10","d":"2020-11-11","v":-0.78},{"s":"DFII10","d":"2020-11-21","v":-0.85},{"s":"DFII10","d":"2020-12-02","v":-0.92},{"s":"DFII10","d":"2020-12-13","v":-0.97},{"s":"DFII10","d":"2020-12-24","v":-1.02},{"s":"DFII10","d":"2021-01-04","v":-1.06},{"s":"DFII10","d":"2021-01-12","v":-0.92},{"s":"DFII10","d":"2021-01-20","v":-0.99},{"s":"DFII10","d":"2021-01-30","v":-1.02},{"s":"DFII10","d":"2021-02-13","v":-1.04},{"s":"DFII10","d":"2021-02-19","v":-0.82},{"s":"DFII10","d":"2021-02-26","v":-0.61},{"s":"DFII10","d":"2021-03-07","v":-0.70},{"s":"DFII10","d":"2021-03-15","v":-0.65},{"s":"DFII10","d":"2021-03-20","v":-0.56},{"s":"DFII10","d":"2021-03-29","v":-0.68}
]},
"mark": {"type": "line", "strokeWidth": 5.5, "strokeCap": "round", "strokeJoin": "round"},
"encoding": {
  "x": {"field": "d", "type": "temporal",
    "scale": {"type": "utc", "domain": [{"year": 2016, "month": 3, "date": 28, "utc": true}, {"year": 2021, "month": 3, "date": 29, "utc": true}]},
    "axis": {"title": null, "grid": false, "offset": -146,
      "values": [{"year": 2016, "month": 3, "date": 28, "utc": true}, {"year": 2017, "month": 3, "date": 28, "utc": true}, {"year": 2018, "month": 3, "date": 28, "utc": true}, {"year": 2019, "month": 3, "date": 28, "utc": true}, {"year": 2020, "month": 3, "date": 28, "utc": true}],
      "format": "%Y-%m-%d", "labelFlush": false, "labelOverlap": false, "labelFont": "Lato", "labelFontSize": 21, "labelColor": "#595959",
      "domainColor": "#d9d9d9", "domainWidth": 1.3, "ticks": true, "tickColor": "#d9d9d9", "tickSize": 6, "tickWidth": 1.3, "labelPadding": 8}},
  "y": {"field": "v", "type": "quantitative",
    "scale": {"domain": [-1.5, 4], "nice": false, "zero": false},
    "axis": {"title": null, "values": [-1.5, -1, -0.5, 0, 0.5, 1, 1.5, 2, 2.5, 3, 3.5, 4],
      "labelExpr": "replace(format(datum.value, '.2f'), '\u2212', '-')",
      "domain": false, "ticks": false, "tickSize": 0, "labelPadding": 23, "grid": true, "gridColor": "#d9d9d9", "gridWidth": 1.3,
      "labelFont": "Lato", "labelFontSize": 21, "labelColor": "#595959"}},
  "color": {"field": "s", "type": "nominal",
    "scale": {"domain": ["DFII10", "DFII30", "DGS10", "DGS30"], "range": ["#4472C4", "#ED7D31", "#A5A5A5", "#FFC000"]},
    "legend": {"title": null, "orient": "none", "legendX": 253, "legendY": 565, "direction": "horizontal",
      "symbolType": "stroke", "symbolSize": 2304, "symbolStrokeWidth": 5, "labelFont": "Lato", "labelFontSize": 21, "labelColor": "#595959",
      "labelOffset": 4, "columnPadding": 20, "padding": 0}}
}
}
